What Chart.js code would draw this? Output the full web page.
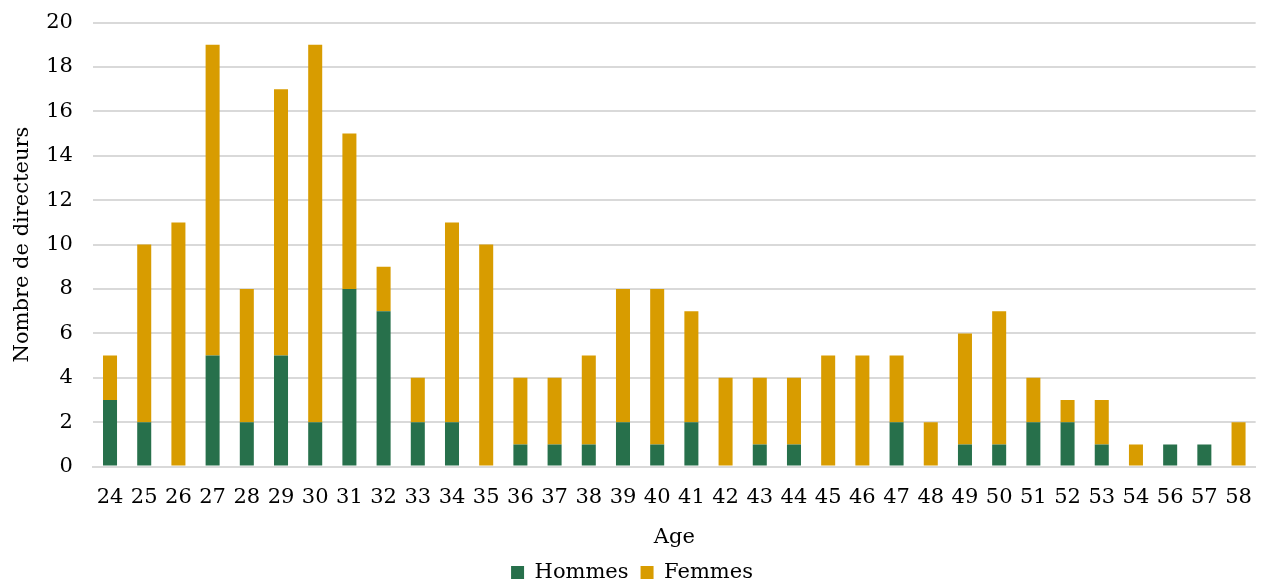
<!DOCTYPE html>
<html>
<head>
<meta charset="utf-8">
<script src="https://cdn.jsdelivr.net/npm/chart.js@4"></script>
<style>
html,body{margin:0;padding:0;background:#fff;}
#wrap{width:1270px;height:582px;position:relative;overflow:hidden;}
#inner{position:absolute;left:0;top:-10px;width:1270px;height:603px;}
</style>
</head>
<body>
<div id="wrap"><div id="inner"><canvas id="c"></canvas></div></div>
<script>
const ages = ['24','25','26','27','28','29','30','31','32','33','34','35','36','37','38','39','40','41','42','43','44','45','46','47','48','49','50','51','52','53','54','56','57','58'];
const hommes = [3,2,0,5,2,5,2,8,7,2,2,0,1,1,1,2,1,2,0,1,1,0,0,2,0,1,1,2,2,1,0,1,1,0];
const femmes = [2,8,11,14,6,12,17,7,2,2,9,10,3,3,4,6,7,5,4,3,3,5,5,3,2,5,6,2,1,2,1,0,0,2];
const yTicks = [0,2,4,6,8,10,12,14,16,18,20];

const FONT = "'DejaVu Serif', 'Liberation Serif', serif";
Chart.defaults.font.family = FONT;
Chart.defaults.color = '#000';

new Chart(document.getElementById('c'), {
  type: 'bar',
  data: {
    labels: ages,
    datasets: [
      {label: 'Hommes', data: hommes, backgroundColor: '#27704b', barPercentage: 0.41, categoryPercentage: 1.0},
      {label: 'Femmes', data: femmes, backgroundColor: '#d89c00', barPercentage: 0.41, categoryPercentage: 1.0}
    ]
  },
  options: {
    responsive: true,
    maintainAspectRatio: false,
    animation: false,
    layout: {padding: {top: 0, right: 6, left: 0, bottom: 0}},
    plugins: {
      legend: {
        position: 'bottom',
        labels: {boxWidth: 13, boxHeight: 13, padding: 12, font: {size: 21}}
      },
      tooltip: {enabled: false}
    },
    scales: {
      x: {
        stacked: true,
        grid: {display: false, drawTicks: false},
        border: {display: true, color: '#d9d9d9', width: 2},
        ticks: {padding: 18, font: {size: 21}, maxRotation: 0, autoSkip: false},
        title: {display: true, text: 'Age', font: {size: 21}, padding: {top: -3, bottom: 0}}
      },
      y: {
        stacked: true,
        min: 0, max: 20,
        afterBuildTicks: (axis) => { axis.ticks = yTicks.map(v => ({value: v})); },
        grid: {color: '#d9d9d9', lineWidth: 2, drawTicks: false},
        border: {display: false},
        ticks: {padding: 20, font: {size: 21}},
        title: {display: true, text: 'Nombre de directeurs', font: {size: 21}, padding: {top: 10, bottom: -9}}
      }
    }
  }
});
</script>
</body>
</html>
